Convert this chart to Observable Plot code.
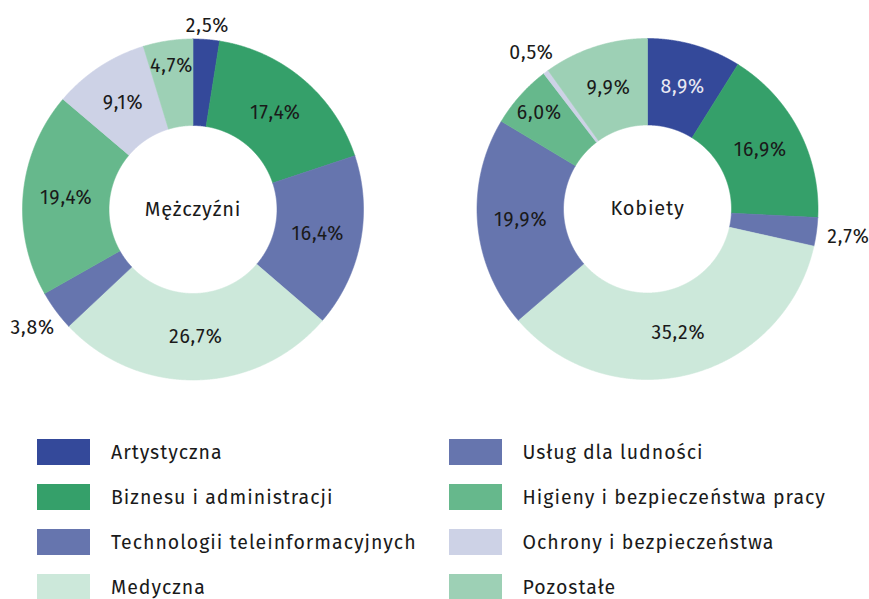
<!DOCTYPE html>
<html><head><meta charset="utf-8">
<script src="https://cdn.jsdelivr.net/npm/d3@7"></script>
<script src="https://cdn.jsdelivr.net/npm/@observablehq/plot@0.6"></script>
<style>
body{margin:0;background:#fff;font-family:"Fira Sans","Noto Sans",sans-serif;}
#wrap{position:relative;width:869px;height:599px;overflow:hidden;background:#fff;}
#legend{position:absolute;left:0;top:420px;width:869px;height:179px;}
.item{position:absolute;display:flex;align-items:center;height:26px;font-size:19.5px;letter-spacing:1px;color:#1a1a1a;white-space:nowrap;}
.sw{width:53px;height:26px;margin-right:21px;flex:none;}
</style></head><body>
<div id="wrap"><div id="chart"></div><div id="legend"></div></div>
<script>
const categories = ["Artystyczna","Biznesu i administracji","Technologii teleinformacyjnych","Medyczna","Usług dla ludności","Higieny i bezpieczeństwa pracy","Ochrony i bezpieczeństwa","Pozostałe"];
const colors = ["#34499a","#35a06a","#6675ae","#cce8da","#6675ae","#66b88c","#cdd2e6","#9dd0b5"];
const groups = ["Mężczyźni","Kobiety"];
const menValues = [2.5,17.4,16.4,26.7,3.8,19.4,9.1,4.7];
const womenValues = [8.9,16.9,2.7,35.2,19.9,6.0,0.5,9.9];

// layout
const W = 869, H = 420;
const centers = [{cx:192.5, cy:209}, {cx:647, cy:208.5}];
const rOuter = 170.5, rInner = 84;
const fmt = v => v.toFixed(1).replace(".", ",") + "%";

const slices = [], labels = [], titles = [];
groups.forEach((g, gi) => {
  const vals = gi === 0 ? menValues : womenValues;
  const {cx, cy} = centers[gi];
  titles.push({text: g, x: cx, y: cy});
  const total = d3.sum(vals);
  let acc = 0;
  vals.forEach((v, i) => {
    const a0 = acc / total * 2 * Math.PI; acc += v;
    const a1 = acc / total * 2 * Math.PI;
    const n = Math.max(2, Math.ceil((a1 - a0) / 0.004));
    const key = g + "|" + categories[i];
    const pts = [];
    for (let k = 0; k <= n; k++) { const a = a0 + (a1 - a0) * k / n; pts.push([cx + rOuter * Math.sin(a), cy - rOuter * Math.cos(a)]); }
    for (let k = n; k >= 0; k--) { const a = a0 + (a1 - a0) * k / n; pts.push([cx + rInner * Math.sin(a), cy - rInner * Math.cos(a)]); }
    pts.push(pts[0]);
    pts.forEach(([x, y]) => slices.push({key, cat: categories[i], x, y}));
    const m = (a0 + a1) / 2;
    let r, outside = false;
    if (v < 4) { outside = true; r = 183 + 20 * Math.abs(Math.sin(m)); }
    else if (v < 7) r = 145;
    else r = (rOuter + rInner) / 2;
    labels.push({text: fmt(v), x: cx + r * Math.sin(m), y: cy - r * Math.cos(m), light: !outside && i === 0});
  });
});

const chart = Plot.plot({
  width: W, height: H, margin: 0,
  style: {fontFamily: '"Fira Sans","Noto Sans",sans-serif', background: "white", overflow: "visible", letterSpacing: "0.8px"},
  x: {domain: [0, W], range: [0, W], axis: null},
  y: {domain: [0, H], range: [0, H], axis: null},
  color: {domain: categories, range: colors},
  marks: [
    Plot.line(slices, {x: "x", y: "y", z: "key", fill: "cat", stroke: "cat", strokeWidth: 0.6, curve: "linear"}),
    Plot.text(labels.filter(d => !d.light), {x: "x", y: "y", text: "text", fill: "#1a1a1a", fontSize: 19.5}),
    Plot.text(labels.filter(d => d.light), {x: "x", y: "y", text: "text", fill: "#e9eaf3", fontSize: 19.5}),
    Plot.text(titles, {x: "x", y: "y", text: "text", fill: "#1a1a1a", fontSize: 20})
  ]
});
document.getElementById("chart").appendChild(chart);

const legend = document.getElementById("legend");
categories.forEach((c, i) => {
  const col = Math.floor(i / 4), row = i % 4;
  const it = document.createElement("div");
  it.className = "item";
  it.style.left = (37 + col * 411.5) + "px";
  it.style.top = (19 + row * 45) + "px";
  const sw = document.createElement("div");
  sw.className = "sw"; sw.style.background = colors[i];
  const tx = document.createElement("span"); tx.textContent = c;
  it.appendChild(sw); it.appendChild(tx);
  legend.appendChild(it);
});
</script>
</body></html>
